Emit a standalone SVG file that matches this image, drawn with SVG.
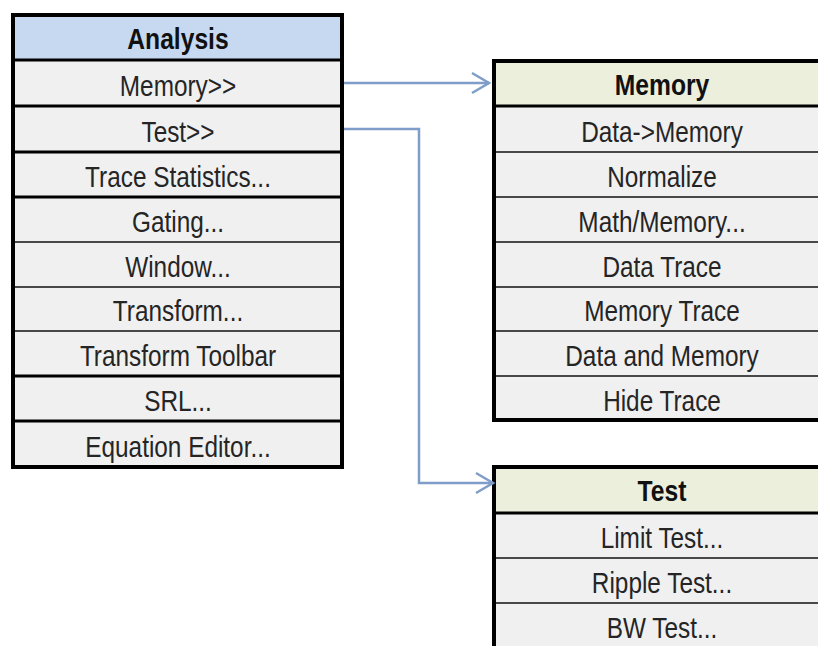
<svg xmlns="http://www.w3.org/2000/svg" width="818" height="646" viewBox="0 0 818 646">
<style>
.row{fill:#f0f0f0}
.hb{fill:#c6d9f1}
.hg{fill:#ecefdc}
.thick{stroke:#000;stroke-width:3}
.thin{stroke:#111;stroke-width:1.7}
.frame{fill:none;stroke:#000;stroke-width:4}
text{font-family:"Liberation Sans",Arial,sans-serif;font-size:29px;fill:#252525;text-anchor:middle}
.h{font-weight:bold;fill:#111}
.conn{fill:none;stroke:#7f9dc9;stroke-width:2.5}
</style>
<defs>
<marker id="arr" markerUnits="userSpaceOnUse" markerWidth="22" markerHeight="24" refX="17" refY="10" orient="auto" viewBox="-2 -2 22 24">
<path d="M0,0 L17,10 L0,20" fill="none" stroke="#7f9dc9" stroke-width="2.5"/>
</marker>
</defs>
<rect width="818" height="646" fill="#ffffff"/>

<g id="analysis">
<rect class="hb" x="13" y="15" width="329" height="45"/>
<rect class="row" x="13" y="60" width="329" height="407"/>
<line class="thick" x1="13" y1="60" x2="342" y2="60"/>
<line class="thick" x1="13" y1="106" x2="342" y2="106"/>
<line class="thick" x1="13" y1="152" x2="342" y2="152"/>
<line class="thick" x1="13" y1="197" x2="342" y2="197"/>
<line class="thin" x1="13" y1="242" x2="342" y2="242"/>
<line class="thin" x1="13" y1="287" x2="342" y2="287"/>
<line class="thin" x1="13" y1="331" x2="342" y2="331"/>
<line class="thick" x1="13" y1="376" x2="342" y2="376"/>
<line class="thick" x1="13" y1="421" x2="342" y2="421"/>
<rect class="frame" x="13" y="15" width="329" height="452"/>
<text class="h" transform="translate(178,49) scale(0.85,1)">Analysis</text>
<text transform="translate(178,96) scale(0.84,1)">Memory&gt;&gt;</text>
<text transform="translate(178,142) scale(0.84,1)">Test&gt;&gt;</text>
<text transform="translate(178,187) scale(0.84,1)">Trace Statistics...</text>
<text transform="translate(178,232) scale(0.84,1)">Gating...</text>
<text transform="translate(178,277) scale(0.84,1)">Window...</text>
<text transform="translate(178,321) scale(0.84,1)">Transform...</text>
<text transform="translate(178,366) scale(0.84,1)">Transform Toolbar</text>
<text transform="translate(178,411) scale(0.84,1)">SRL...</text>
<text transform="translate(178,457) scale(0.84,1)">Equation Editor...</text>
</g>

<g id="memory">
<rect class="hg" x="494" y="61" width="340" height="45"/>
<rect class="row" x="494" y="106" width="340" height="314"/>
<line class="thick" x1="494" y1="106" x2="834" y2="106"/>
<line class="thin" x1="494" y1="152" x2="834" y2="152"/>
<line class="thin" x1="494" y1="197" x2="834" y2="197"/>
<line class="thin" x1="494" y1="242" x2="834" y2="242"/>
<line class="thin" x1="494" y1="287" x2="834" y2="287"/>
<line class="thin" x1="494" y1="331" x2="834" y2="331"/>
<line class="thin" x1="494" y1="376" x2="834" y2="376"/>
<rect class="frame" x="494" y="61" width="340" height="359"/>
<text class="h" transform="translate(662,95) scale(0.85,1)">Memory</text>
<text transform="translate(662,142) scale(0.84,1)">Data-&gt;Memory</text>
<text transform="translate(662,187) scale(0.84,1)">Normalize</text>
<text transform="translate(662,232) scale(0.84,1)">Math/Memory...</text>
<text transform="translate(662,277) scale(0.84,1)">Data Trace</text>
<text transform="translate(662,321) scale(0.84,1)">Memory Trace</text>
<text transform="translate(662,366) scale(0.84,1)">Data and Memory</text>
<text transform="translate(662,411) scale(0.84,1)">Hide Trace</text>
</g>

<g id="test">
<rect class="hg" x="494" y="467" width="340" height="46"/>
<rect class="row" x="494" y="513" width="340" height="140"/>
<line class="thick" x1="494" y1="513" x2="834" y2="513"/>
<line class="thin" x1="494" y1="558" x2="834" y2="558"/>
<line class="thin" x1="494" y1="603" x2="834" y2="603"/>
<rect class="frame" x="494" y="467" width="340" height="190"/>
<text class="h" transform="translate(662,501) scale(0.85,1)">Test</text>
<text transform="translate(662,548) scale(0.84,1)">Limit Test...</text>
<text transform="translate(662,593) scale(0.84,1)">Ripple Test...</text>
<text transform="translate(662,638) scale(0.84,1)">BW Test...</text>
</g>

<g id="connectors">
<path class="conn" d="M344,83 H489" marker-end="url(#arr)"/>
<path class="conn" d="M344,129 H419 V483 H493" marker-end="url(#arr)"/>
</g>
</svg>
